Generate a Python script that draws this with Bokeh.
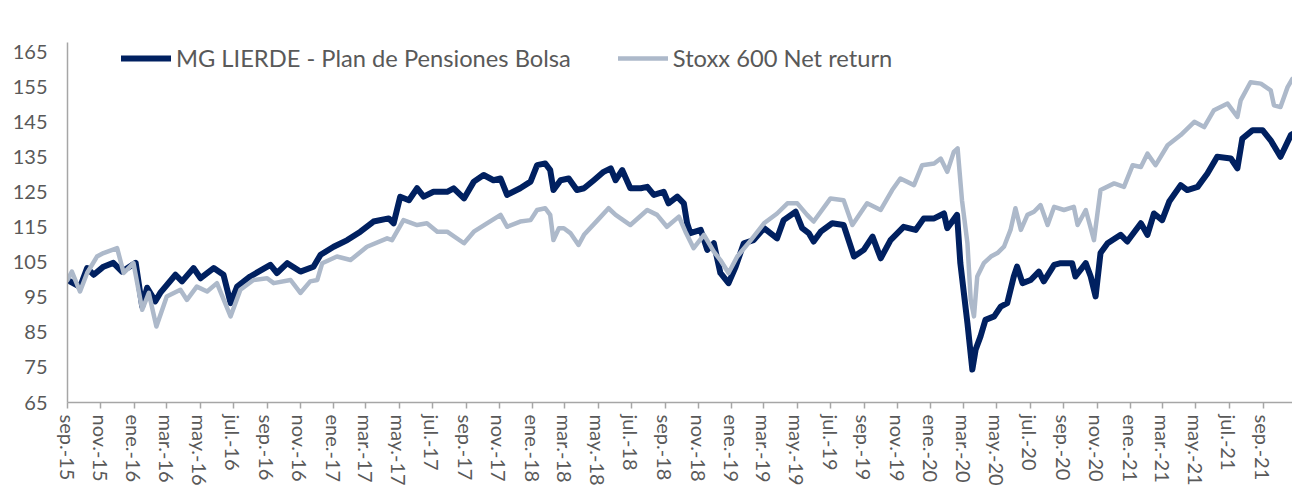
import pandas as pd
from bokeh.plotting import figure
from bokeh.models import FixedTicker, Legend, LegendItem, Range1d
from bokeh.embed import file_html
from bokeh.resources import INLINE

# ---------------- data ----------------
mg_dates = [
    "2015-09-01", "2015-09-24", "2015-10-07", "2015-10-19", "2015-11-06", "2015-11-24",
    "2015-12-10", "2016-01-04", "2016-01-16", "2016-01-25", "2016-02-09", "2016-02-18",
    "2016-03-17", "2016-03-29", "2016-04-19", "2016-05-02", "2016-05-26", "2016-06-13",
    "2016-06-26", "2016-07-08", "2016-08-01", "2016-09-07", "2016-09-19", "2016-10-08",
    "2016-11-01", "2016-11-25", "2016-12-08", "2017-01-01", "2017-01-26", "2017-02-19",
    "2017-03-15", "2017-04-12", "2017-04-21", "2017-05-03", "2017-05-19", "2017-06-03",
    "2017-06-15", "2017-07-03", "2017-07-28", "2017-08-09", "2017-08-28", "2017-09-15",
    "2017-10-03", "2017-10-21", "2017-11-03", "2017-11-15", "2017-12-09", "2017-12-28",
    "2018-01-09", "2018-01-24", "2018-02-02", "2018-02-08", "2018-02-21", "2018-03-08",
    "2018-03-23", "2018-04-05", "2018-04-23", "2018-05-11", "2018-05-24", "2018-06-02",
    "2018-06-14", "2018-06-29", "2018-07-18", "2018-07-30", "2018-08-11", "2018-08-29",
    "2018-09-07", "2018-09-23", "2018-10-05", "2018-10-11", "2018-10-17", "2018-11-05",
    "2018-11-17", "2018-11-29", "2018-12-11", "2018-12-26", "2019-01-08", "2019-01-23",
    "2019-02-10", "2019-03-01", "2019-03-25", "2019-04-06", "2019-04-28", "2019-05-10",
    "2019-05-22", "2019-05-31", "2019-06-13", "2019-07-04", "2019-07-25", "2019-08-13",
    "2019-08-31", "2019-09-16", "2019-10-01", "2019-10-19", "2019-11-12", "2019-12-04",
    "2019-12-19", "2020-01-07", "2020-01-25", "2020-01-31", "2020-02-18", "2020-02-24",
    "2020-03-08", "2020-03-17", "2020-03-23", "2020-04-01", "2020-04-10", "2020-04-26",
    "2020-05-08", "2020-05-20", "2020-06-01", "2020-06-07", "2020-06-17", "2020-07-02",
    "2020-07-17", "2020-07-26", "2020-08-14", "2020-08-26", "2020-09-16", "2020-09-22",
    "2020-10-11", "2020-10-20", "2020-10-29", "2020-11-07", "2020-11-20", "2020-12-14",
    "2020-12-26", "2021-01-20", "2021-02-01", "2021-02-13", "2021-02-28", "2021-03-13",
    "2021-04-03", "2021-04-15", "2021-05-04", "2021-05-22", "2021-06-09", "2021-07-04",
    "2021-07-16", "2021-07-25", "2021-08-13", "2021-08-31", "2021-09-15", "2021-10-03",
    "2021-10-22", "2021-10-25",
]
mg_values = [
    100.0, 98.0, 103.4, 101.5, 103.8, 104.9,
    102.4, 104.9, 92.4, 97.8, 93.9, 96.3,
    101.5, 99.6, 103.4, 100.5, 103.4, 101.5,
    93.4, 98.1, 101.0, 104.3, 102.0, 104.8,
    102.4, 103.8, 107.2, 109.5, 111.4, 113.8,
    116.7, 117.6, 116.2, 123.8, 122.8, 126.2,
    123.8, 125.2, 125.2, 126.2, 123.3, 128.1,
    130.0, 128.5, 129.0, 124.3, 126.2, 128.1,
    132.8, 133.3, 131.4, 125.7, 128.5, 129.0,
    125.7, 126.2, 128.5, 130.9, 131.9, 128.5,
    131.4, 126.2, 126.2, 126.6, 124.3, 125.2,
    121.9, 123.8, 121.9, 116.2, 113.4, 114.3,
    108.6, 110.5, 102.0, 99.1, 103.8, 110.5,
    111.4, 114.8, 111.9, 117.1, 119.5, 114.8,
    113.4, 111.0, 113.8, 116.2, 115.7, 106.7,
    108.6, 112.4, 106.2, 111.4, 115.2, 114.3,
    117.6, 117.6, 119.0, 114.8, 118.6, 104.8,
    87.7, 74.4, 80.1, 83.9, 88.6, 89.6,
    92.4, 93.4, 101.0, 103.8, 99.1, 100.0,
    102.4, 99.6, 104.3, 104.8, 104.8, 101.0,
    104.8, 101.0, 95.3, 107.7, 110.5, 112.9,
    111.0, 116.2, 112.9, 119.0, 117.1, 122.4,
    127.1, 125.7, 126.6, 130.4, 135.2, 134.7,
    131.9, 140.4, 142.8, 142.8, 139.9, 135.2,
    141.4, 141.7,
]

stoxx_dates = [
    "2015-09-01", "2015-09-09", "2015-09-24", "2015-10-07", "2015-10-25", "2015-11-06",
    "2015-12-01", "2015-12-13", "2015-12-31", "2016-01-16", "2016-01-28", "2016-02-11",
    "2016-03-01", "2016-03-26", "2016-04-07", "2016-04-25", "2016-05-14", "2016-06-01",
    "2016-06-26", "2016-07-14", "2016-08-07", "2016-09-01", "2016-09-13", "2016-10-14",
    "2016-11-01", "2016-11-19", "2016-12-02", "2016-12-11", "2017-01-07", "2017-02-01",
    "2017-03-03", "2017-04-09", "2017-04-18", "2017-05-09", "2017-06-03", "2017-06-21",
    "2017-07-10", "2017-07-28", "2017-08-28", "2017-09-15", "2017-10-09", "2017-11-03",
    "2017-11-15", "2017-12-09", "2017-12-28", "2018-01-09", "2018-01-24", "2018-02-02",
    "2018-02-08", "2018-02-18", "2018-02-27", "2018-03-11", "2018-03-26", "2018-04-05",
    "2018-04-30", "2018-05-20", "2018-06-02", "2018-06-29", "2018-07-30", "2018-08-17",
    "2018-09-04", "2018-09-26", "2018-10-08", "2018-10-23", "2018-11-11", "2018-11-29",
    "2018-12-11", "2018-12-26", "2019-01-11", "2019-02-05", "2019-03-01", "2019-03-25",
    "2019-04-13", "2019-05-01", "2019-05-19", "2019-05-31", "2019-07-01", "2019-07-25",
    "2019-08-10", "2019-09-06", "2019-10-01", "2019-10-22", "2019-11-06", "2019-12-01",
    "2019-12-16", "2020-01-07", "2020-01-19", "2020-01-31", "2020-02-12", "2020-02-19",
    "2020-02-27", "2020-03-08", "2020-03-14", "2020-03-20", "2020-03-26", "2020-04-07",
    "2020-04-20", "2020-05-02", "2020-05-14", "2020-05-26", "2020-06-04", "2020-06-14",
    "2020-06-26", "2020-07-08", "2020-07-20", "2020-08-02", "2020-08-14", "2020-09-01",
    "2020-09-19", "2020-09-26", "2020-10-11", "2020-10-26", "2020-11-07", "2020-12-02",
    "2020-12-20", "2021-01-05", "2021-01-20", "2021-02-01", "2021-02-16", "2021-03-10",
    "2021-04-03", "2021-04-28", "2021-05-16", "2021-06-03", "2021-06-28", "2021-07-16",
    "2021-07-22", "2021-08-09", "2021-08-28", "2021-09-15", "2021-09-21", "2021-10-03",
    "2021-10-16", "2021-10-25",
]
stoxx_values = [
    100.0, 102.4, 96.7, 102.0, 106.7, 107.7,
    109.1, 102.0, 104.8, 91.5, 96.3, 86.7,
    95.3, 97.2, 94.3, 98.1, 96.7, 99.1,
    89.6, 97.2, 100.0, 100.5, 99.1, 100.0,
    96.3, 99.6, 100.0, 104.8, 106.7, 105.7,
    109.5, 111.9, 111.4, 117.1, 115.7, 116.2,
    113.8, 113.8, 110.5, 113.8, 116.2, 118.6,
    115.2, 116.7, 117.1, 120.0, 120.5, 118.6,
    111.4, 114.8, 114.8, 113.4, 110.0, 112.9,
    117.1, 120.5, 118.6, 115.7, 120.0, 118.6,
    115.2, 118.1, 113.8, 109.1, 112.9, 108.1,
    105.7, 102.0, 106.7, 111.4, 116.2, 119.0,
    121.9, 121.9, 118.6, 116.7, 123.3, 122.8,
    115.7, 121.9, 120.0, 125.7, 129.0, 127.1,
    132.8, 133.3, 134.7, 130.9, 136.6, 137.6,
    122.8, 110.5, 94.3, 89.6, 101.0, 104.8,
    106.7, 107.7, 109.5, 114.3, 120.5, 114.3,
    118.6, 119.5, 121.4, 115.7, 120.9, 120.0,
    120.9, 115.7, 120.0, 111.4, 125.7, 127.6,
    126.6, 132.8, 132.3, 136.1, 132.8, 138.5,
    141.4, 145.2, 143.7, 148.5, 150.4, 146.6,
    151.3, 156.5, 156.1, 154.2, 149.9, 149.4,
    155.1, 157.5,
]

series_names = ["MG LIERDE - Plan de Pensiones Bolsa", "Stoxx 600 Net return"]
month_abbr = ["ene.", "feb.", "mar.", "abr.", "may.", "jun.",
              "jul.", "ago.", "sep.", "oct.", "nov.", "dic."]
tick_months = pd.date_range("2015-09-01", "2021-09-01", freq="2MS")
y_ticks = [65, 75, 85, 95, 105, 115, 125, 135, 145, 155, 165]
x_start, x_end = "2015-09-01", "2021-10-25"

# ---------------- build ----------------
base = pd.Timestamp(x_start)
def to_days(ds):
    return [int((pd.Timestamp(d) - base).days) for d in ds]

mg_x = to_days(mg_dates)
st_x = to_days(stoxx_dates)
tick_x = [int((t - base).days) for t in tick_months]
tick_labels = {tx: f"{month_abbr[t.month - 1]}-{t.strftime('%y')}" for tx, t in zip(tick_x, tick_months)}

FONT = "Lato"
TXT = "#595959"
AXC = "#a6a6a6"
DARK = "#002060"
GREY = "#adb9ca"

# frame starts a little above the 165 tick so the legend (which sits
# just below the top tick in the original) is not clipped by the frame
p = figure(width=1292, height=488, output_backend="svg", toolbar_location=None,
           x_range=Range1d(0, to_days([x_end])[0]), y_range=Range1d(65, 167.85),
           min_border_left=67, min_border_right=0, min_border_top=42, min_border_bottom=0)
p.outline_line_color = None
p.grid.grid_line_color = None
p.background_fill_color = "white"
p.border_fill_color = "white"

r1 = p.line(mg_x, mg_values, line_color=DARK, line_width=6, line_cap="round", line_join="round")
r2 = p.line(st_x, stoxx_values, line_color=GREY, line_width=4.5, line_cap="round", line_join="round")

xa = p.xaxis[0]
xa.ticker = FixedTicker(ticks=tick_x)
xa.major_label_overrides = tick_labels
xa.major_label_orientation = "vertical"
xa.major_tick_in = 0
xa.major_tick_out = 6
xa.minor_tick_line_color = None
xa.axis_line_color = AXC
xa.axis_line_width = 1.5
xa.major_tick_line_color = AXC
xa.major_tick_line_width = 1.5
xa.major_label_text_font = FONT
xa.major_label_text_font_size = "20px"
xa.major_label_text_color = TXT
xa.major_label_standoff = 6

ya = p.yaxis[0]
ya.ticker = FixedTicker(ticks=y_ticks)
ya.major_tick_in = 0
ya.major_tick_out = 0
ya.minor_tick_line_color = None
ya.axis_line_color = AXC
ya.axis_line_width = 1.5
ya.major_label_text_font = FONT
ya.major_label_text_font_size = "20px"
ya.major_label_text_color = TXT
ya.major_label_standoff = 20

legend = Legend(items=[LegendItem(label=series_names[0], renderers=[r1]),
                       LegendItem(label=series_names[1], renderers=[r2])],
                location=(54, 330), orientation="horizontal",
                padding=0, margin=0, spacing=47, glyph_width=50, glyph_height=20,
                label_standoff=5, label_text_font=FONT, label_text_font_size="23.7px",
                label_text_color=TXT, background_fill_alpha=0, border_line_alpha=0)
p.add_layout(legend)

open("out.html", "w").write(file_html(p, INLINE))
